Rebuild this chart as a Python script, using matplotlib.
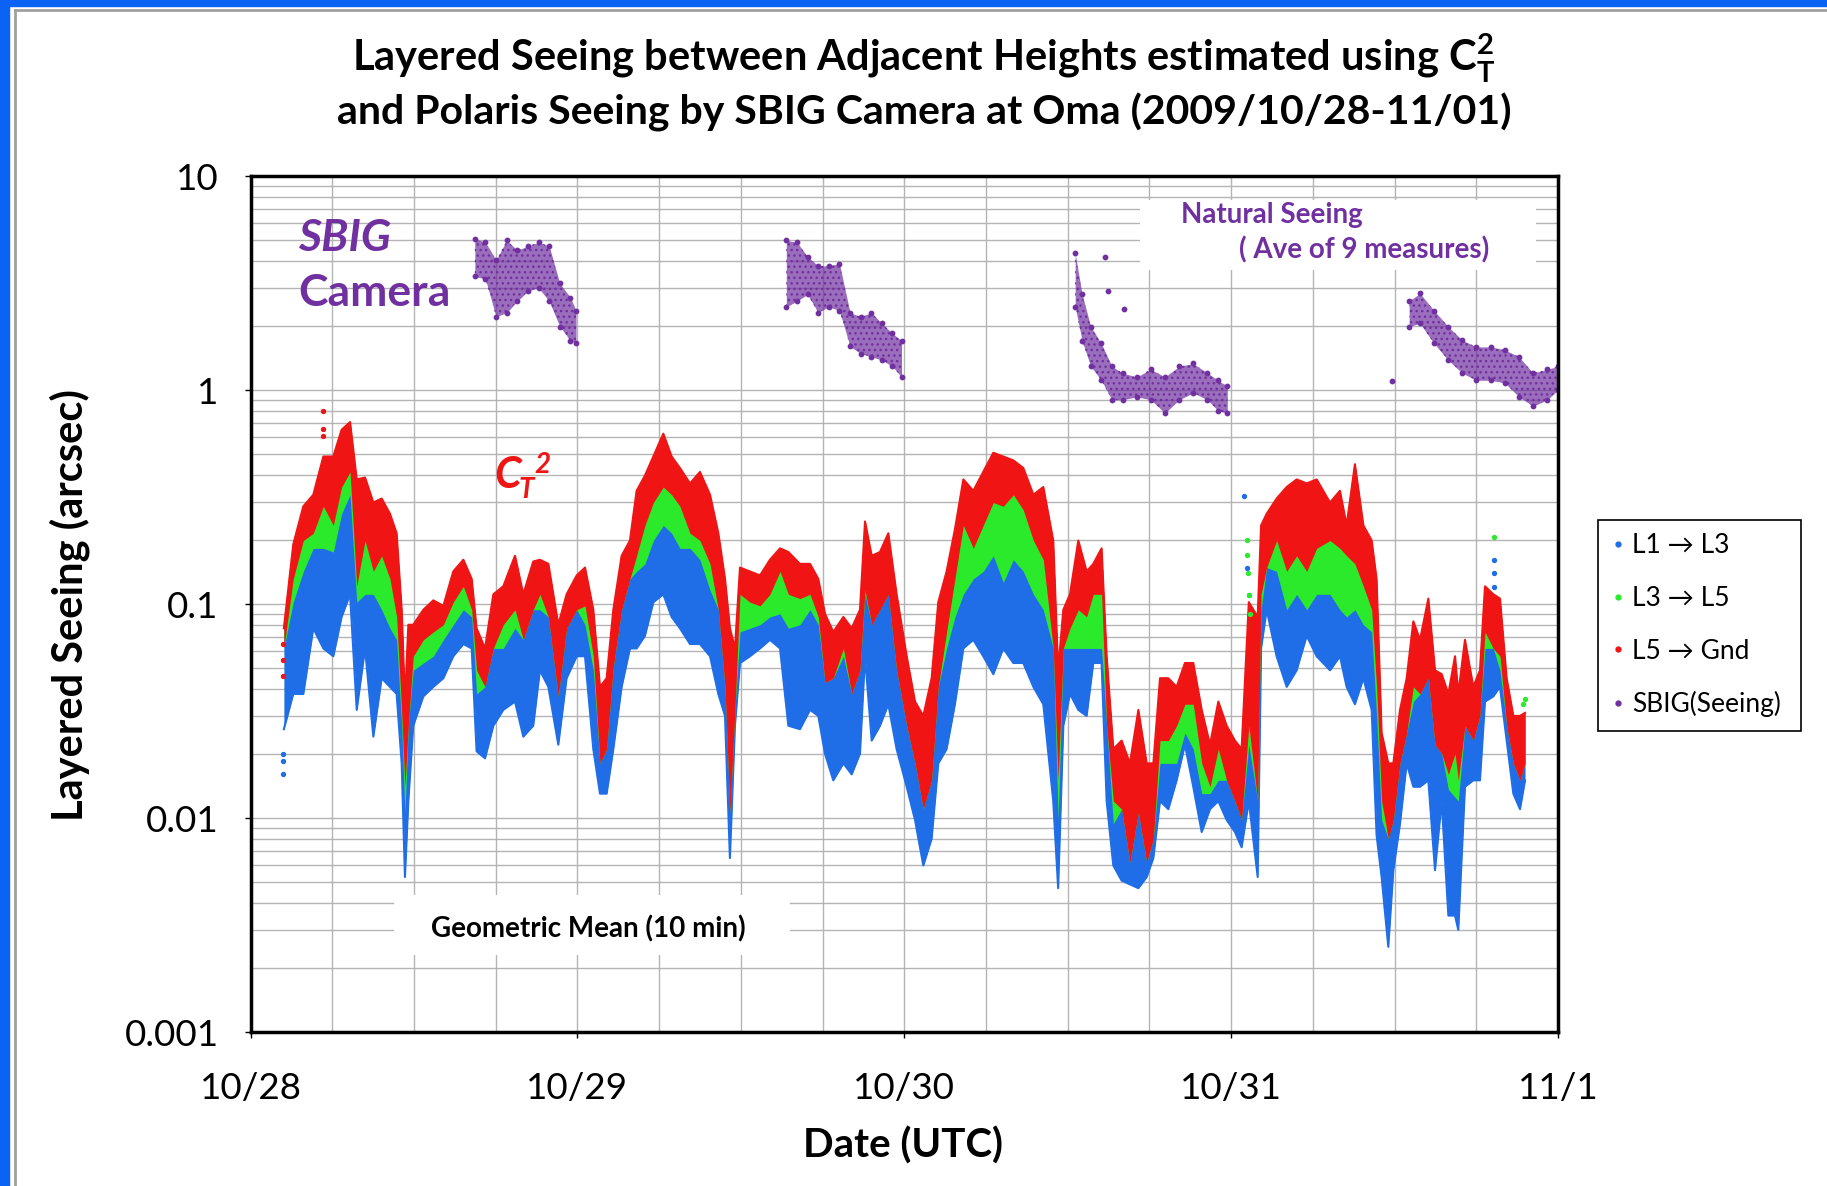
import numpy as np
import matplotlib.pyplot as plt
from matplotlib.lines import Line2D
from matplotlib.patches import Rectangle
from matplotlib.ticker import MultipleLocator, LogLocator, NullFormatter, FixedLocator, FixedFormatter

plt.rcParams['font.family'] = ['Lato', 'DejaVu Sans']
plt.rcParams['mathtext.fontset'] = 'custom'
plt.rcParams['mathtext.rm'] = 'Lato'
plt.rcParams['mathtext.bf'] = 'Lato:bold'

BLUE = '#1f6ee8'
GREEN = '#2bea2b'
RED = '#f01414'
PURPLE = '#7030a0'

# hours since 2009/10/28 00:00 UTC, band edges (arcsec)
hours = [2.45, 3.14, 3.88, 4.61, 5.35, 6.08, 6.69, 7.31, 7.8, 8.41, 9.02, 9.63, 10.24, 10.73, 11.1, 11.34, 11.59, 11.95,
         12.69, 13.42, 14.16, 14.89, 15.63, 16.24, 16.6, 17.22, 17.83, 18.56, 19.42, 20.03, 20.76, 21.25, 21.87, 22.6, 23.21, 23.95,
         24.56, 25.17, 25.66, 26.15, 26.64, 27.25, 27.86, 28.35, 28.96, 29.58, 30.31, 30.92, 31.53, 32.27, 33.0, 33.74, 34.35, 34.84,
         35.2, 35.57, 35.94, 36.67, 37.41, 38.14, 38.88, 39.49, 40.34, 41.08, 41.69, 42.18, 42.79, 43.53, 44.14, 44.75, 45.12, 45.61,
         46.22, 46.83, 47.44,
         48.18, 48.79, 49.4, 50.01, 50.5, 51.11, 51.72, 52.34, 53.07, 53.8, 54.54, 55.27, 56.01, 56.74, 57.48, 58.21, 58.94, 59.3,
         59.68, 60.17, 60.78, 61.39, 61.88, 62.49, 62.86, 63.35, 63.96, 64.57, 65.19, 65.8, 66.29, 66.78, 67.39, 68.0, 68.61, 69.22,
         69.84, 70.45, 71.06, 71.67,
         72.28, 72.77, 73.3, 73.95, 74.2, 74.61, 75.34, 76.08, 76.81, 77.55, 78.28, 79.26, 79.99, 80.48, 81.09, 81.71, 82.32, 82.68,
         83.05, 83.54, 83.91, 84.4, 84.89, 85.38, 85.87, 86.48, 86.97, 87.46, 87.95, 88.44, 88.68, 89.17, 89.78, 90.27, 90.64, 91.25,
         91.74, 92.23, 92.72, 93.21, 93.58]

# L5 -> Gnd, upper edge
gnd_hi = [0.077, 0.19, 0.286, 0.324, 0.489, 0.489, 0.652, 0.708, 0.382, 0.39, 0.298, 0.311, 0.264, 0.214, 0.094, 0.035, 0.080, 0.080,
          0.094, 0.104, 0.098, 0.142, 0.161, 0.131, 0.077, 0.062, 0.111, 0.121, 0.168, 0.111, 0.158, 0.161, 0.154, 0.080, 0.111, 0.136,
          0.148, 0.094, 0.041, 0.045, 0.094, 0.168, 0.198, 0.338, 0.398, 0.489, 0.625, 0.489, 0.432, 0.366, 0.414, 0.324, 0.214, 0.131,
          0.077, 0.062, 0.148, 0.142, 0.136, 0.161, 0.182, 0.175, 0.154, 0.154, 0.131, 0.090, 0.074, 0.087, 0.077, 0.094, 0.243, 0.168,
          0.175, 0.214, 0.111,
          0.057, 0.035, 0.030, 0.045, 0.102, 0.142, 0.223, 0.382, 0.338, 0.414, 0.509, 0.489, 0.469, 0.432, 0.324, 0.352, 0.198, 0.049,
          0.094, 0.111, 0.198, 0.142, 0.154, 0.182, 0.057, 0.021, 0.023, 0.018, 0.032, 0.018, 0.018, 0.045, 0.045, 0.041, 0.053, 0.053,
          0.032, 0.022, 0.035, 0.027,
          0.023, 0.021, 0.102, 0.087, 0.233, 0.264, 0.311, 0.352, 0.382, 0.366, 0.382, 0.298, 0.338, 0.233, 0.45, 0.233, 0.198, 0.131,
          0.025, 0.018, 0.018, 0.032, 0.045, 0.083, 0.068, 0.106, 0.049, 0.047, 0.038, 0.057, 0.038, 0.068, 0.041, 0.049, 0.121, 0.111,
          0.106, 0.045, 0.030, 0.030, 0.031]

# L5 -> Gnd, lower edge
gnd_lo = [0.062, 0.131, 0.198, 0.214, 0.286, 0.233, 0.352, 0.414, 0.121, 0.198, 0.142, 0.168, 0.131, 0.087, 0.031, 0.014, 0.027, 0.057,
          0.068, 0.074, 0.080, 0.102, 0.121, 0.094, 0.049, 0.041, 0.062, 0.080, 0.094, 0.068, 0.094, 0.111, 0.087, 0.037, 0.077, 0.094,
          0.098, 0.057, 0.018, 0.021, 0.051, 0.094, 0.131, 0.168, 0.233, 0.298, 0.352, 0.324, 0.286, 0.214, 0.198, 0.154, 0.094, 0.041,
          0.0106, 0.032, 0.111, 0.102, 0.098, 0.111, 0.142, 0.111, 0.106, 0.111, 0.087, 0.043, 0.045, 0.062, 0.038, 0.049, 0.116, 0.080,
          0.094, 0.111, 0.049,
          0.027, 0.018, 0.011, 0.015, 0.041, 0.074, 0.131, 0.233, 0.182, 0.233, 0.298, 0.286, 0.324, 0.275, 0.198, 0.161, 0.062, 0.015,
          0.062, 0.077, 0.094, 0.087, 0.111, 0.111, 0.027, 0.012, 0.011, 0.0062, 0.0106, 0.0062, 0.0080, 0.023, 0.023, 0.027, 0.034, 0.034,
          0.018, 0.014, 0.021, 0.015,
          0.012, 0.0098, 0.027, 0.012, 0.111, 0.148, 0.198, 0.142, 0.168, 0.142, 0.182, 0.198, 0.182, 0.168, 0.154, 0.121, 0.094, 0.041,
          0.012, 0.0080, 0.0098, 0.018, 0.025, 0.041, 0.038, 0.045, 0.022, 0.020, 0.016, 0.020, 0.015, 0.027, 0.023, 0.030, 0.074, 0.062,
          0.057, 0.027, 0.018, 0.015, 0.018]

# L3 -> L5, lower edge
l35_lo = [0.062, 0.102, 0.142, 0.182, 0.182, 0.175, 0.264, 0.324, 0.102, 0.111, 0.111, 0.094, 0.077, 0.068, 0.027, 0.0106, 0.027, 0.049,
          0.053, 0.057, 0.068, 0.080, 0.094, 0.087, 0.038, 0.041, 0.062, 0.062, 0.077, 0.068, 0.094, 0.094, 0.087, 0.037, 0.077, 0.094,
          0.080, 0.049, 0.018, 0.021, 0.051, 0.094, 0.131, 0.142, 0.154, 0.198, 0.233, 0.214, 0.182, 0.182, 0.161, 0.116, 0.094, 0.041,
          0.0106, 0.032, 0.074, 0.077, 0.080, 0.087, 0.090, 0.077, 0.080, 0.094, 0.080, 0.043, 0.045, 0.057, 0.038, 0.049, 0.111, 0.080,
          0.094, 0.111, 0.049,
          0.027, 0.018, 0.011, 0.015, 0.041, 0.062, 0.087, 0.111, 0.131, 0.142, 0.168, 0.126, 0.161, 0.142, 0.111, 0.094, 0.062, 0.0098,
          0.062, 0.062, 0.062, 0.062, 0.062, 0.062, 0.027, 0.0094, 0.011, 0.0062, 0.0106, 0.0062, 0.0080, 0.018, 0.018, 0.018, 0.025, 0.021,
          0.013, 0.013, 0.015, 0.015,
          0.012, 0.0098, 0.022, 0.012, 0.094, 0.148, 0.142, 0.094, 0.111, 0.094, 0.111, 0.111, 0.094, 0.087, 0.094, 0.080, 0.074, 0.030,
          0.0098, 0.0080, 0.0098, 0.018, 0.025, 0.035, 0.038, 0.045, 0.022, 0.020, 0.0136, 0.0125, 0.012, 0.027, 0.023, 0.030, 0.062, 0.062,
          0.049, 0.027, 0.018, 0.015, 0.018]

# L1 -> L3, lower edge
l13_lo = [0.026, 0.038, 0.038, 0.077, 0.062, 0.057, 0.087, 0.111, 0.032, 0.062, 0.024, 0.045, 0.041, 0.038, 0.018, 0.0053, 0.012, 0.027,
          0.037, 0.041, 0.045, 0.057, 0.065, 0.062, 0.0205, 0.019, 0.027, 0.032, 0.035, 0.024, 0.027, 0.049, 0.041, 0.022, 0.045, 0.057,
          0.057, 0.021, 0.013, 0.013, 0.021, 0.041, 0.062, 0.062, 0.071, 0.102, 0.111, 0.087, 0.077, 0.065, 0.065, 0.057, 0.038, 0.030,
          0.0065, 0.027, 0.053, 0.057, 0.062, 0.068, 0.062, 0.027, 0.026, 0.032, 0.030, 0.020, 0.015, 0.018, 0.016, 0.020, 0.057, 0.023,
          0.027, 0.034, 0.021,
          0.014, 0.0098, 0.0060, 0.0080, 0.018, 0.021, 0.034, 0.062, 0.068, 0.057, 0.047, 0.062, 0.053, 0.053, 0.041, 0.034, 0.012, 0.0047,
          0.027, 0.038, 0.032, 0.030, 0.053, 0.053, 0.012, 0.0060, 0.0051, 0.0049, 0.0047, 0.0053, 0.0065, 0.012, 0.011, 0.015, 0.022, 0.014,
          0.0086, 0.011, 0.012, 0.0098,
          0.0086, 0.0073, 0.012, 0.0053, 0.062, 0.094, 0.057, 0.041, 0.049, 0.071, 0.057, 0.049, 0.057, 0.041, 0.034, 0.045, 0.032, 0.0083,
          0.0053, 0.0025, 0.0057, 0.0094, 0.018, 0.014, 0.014, 0.015, 0.0057, 0.012, 0.0035, 0.0035, 0.0030, 0.014, 0.015, 0.015, 0.035, 0.037,
          0.041, 0.023, 0.013, 0.011, 0.015]

# isolated points outside the bands
l13_extra_h = [2.4, 2.4, 2.4, 72.97, 73.2, 73.3, 91.3, 91.3, 91.3]
l13_extra_v = [0.020, 0.0185, 0.016, 0.32, 0.148, 0.11, 0.16, 0.14, 0.12]
l35_extra_h = [73.15, 73.2, 73.25, 73.3, 73.35, 91.32, 93.4, 93.55]
l35_extra_v = [0.20, 0.17, 0.14, 0.11, 0.09, 0.206, 0.034, 0.036]
gnd_extra_h = [2.4, 2.4, 2.4, 5.3, 5.3, 5.35]
gnd_extra_v = [0.065, 0.055, 0.046, 0.80, 0.66, 0.61]

# SBIG (Polaris) seeing, spread of the point cloud
sbig_hours = [16.47, 17.25, 18.03, 18.81, 19.59, 20.37, 21.15, 21.93, 22.71, 23.49, 23.9,
              39.34, 40.12, 40.9, 41.68, 42.46, 43.24, 44.02, 44.8, 45.58, 46.35, 47.13, 47.8,
              60.55, 61.06, 61.69, 62.47, 63.25, 64.03, 65.07, 66.1, 67.14, 68.18, 69.22, 70.26, 71.04, 71.72,
              85.07, 85.86, 86.9, 87.93, 88.97, 90.0, 91.05, 92.09, 93.13, 94.17, 95.21, 96.0]
sbig_hi = [5.1, 4.9, 4.05, 5.0, 4.5, 4.7, 4.9, 4.7, 3.15, 2.7, 2.35,
           5.0, 4.9, 4.2, 3.8, 3.8, 3.9, 2.3, 2.2, 2.3, 2.05, 1.84, 1.7,
           4.35, 2.8, 1.98, 1.65, 1.29, 1.2, 1.15, 1.25, 1.15, 1.29, 1.33, 1.2, 1.11, 1.04,
           2.6, 2.83, 2.35, 1.98, 1.71, 1.59, 1.59, 1.54, 1.43, 1.2, 1.25, 1.29]
sbig_lo = [3.4, 3.3, 2.2, 2.3, 2.6, 2.9, 3.0, 2.6, 1.98, 1.7, 1.65,
           2.45, 2.6, 2.8, 2.3, 2.45, 2.35, 1.6, 1.48, 1.43, 1.38, 1.29, 1.15,
           2.45, 1.7, 1.29, 1.11, 0.90, 0.90, 0.93, 0.90, 0.78, 0.90, 0.97, 0.90, 0.80, 0.78,
           1.98, 2.05, 1.65, 1.38, 1.2, 1.11, 1.11, 1.08, 0.93, 0.84, 0.90, 1.0]
sbig_extra_h = [62.73, 62.99, 64.1, 83.78]
sbig_extra_v = [4.2, 2.9, 2.4, 1.10]

date_labels = ['10/28', '10/29', '10/30', '10/31', '11/1']
y_labels = ['0.001', '0.01', '0.1', '1', '10']

W, H = 1827, 1186
fig = plt.figure(figsize=(W / 100, H / 100), dpi=100)
ax = fig.add_axes([250.5 / W, 1 - 1032 / H, 1307.5 / W, 856 / H])

d = np.array(hours) / 24
ax.fill_between(d, l13_lo, gnd_hi, color=BLUE, lw=0, zorder=2)
ax.plot(d, l13_lo, color=BLUE, lw=1.5, zorder=2)
ax.fill_between(d, l35_lo, gnd_hi, color=GREEN, lw=0, zorder=2.1)
ax.fill_between(d, gnd_lo, gnd_hi, color=RED, lw=0, zorder=2.2)
ax.plot(d, gnd_hi, color=RED, lw=1.5, zorder=2.2)
ax.scatter(np.array(l13_extra_h) / 24, l13_extra_v, s=8, color=BLUE, zorder=2.3)
ax.scatter(np.array(l35_extra_h) / 24, l35_extra_v, s=8, color=GREEN, zorder=2.3)
ax.scatter(np.array(gnd_extra_h) / 24, gnd_extra_v, s=8, color=RED, zorder=2.3)

# SBIG clouds, one per night
sh = np.array(sbig_hours)
sd = sh / 24
lo = np.array(sbig_lo)
hi = np.array(sbig_hi)
breaks = np.where(np.diff(sh) > 4)[0] + 1
for idx in np.split(np.arange(len(sh)), breaks):
    ax.fill_between(sd[idx], lo[idx], hi[idx], color=PURPLE, alpha=0.7, lw=0, zorder=2)
    ax.fill_between(sd[idx], lo[idx], hi[idx], facecolor='none', edgecolor=PURPLE, hatch='...', lw=0, zorder=2)
ax.scatter(sd, lo, s=10, color=PURPLE, zorder=2.3)
ax.scatter(sd, hi, s=10, color=PURPLE, zorder=2.3)
ax.scatter(np.array(sbig_extra_h) / 24, sbig_extra_v, s=10, color=PURPLE, zorder=2.3)

# axes, grid and ticks
ax.set_yscale('log')
ax.set_xlim(0, 4)
ax.set_ylim(0.001, 10)
ax.xaxis.set_major_locator(FixedLocator(range(5)))
ax.xaxis.set_major_formatter(FixedFormatter(date_labels))
ax.xaxis.set_minor_locator(MultipleLocator(0.25))
ax.yaxis.set_major_locator(FixedLocator([0.001, 0.01, 0.1, 1, 10]))
ax.yaxis.set_major_formatter(FixedFormatter(y_labels))
ax.yaxis.set_minor_locator(LogLocator(base=10, subs=range(2, 10)))
ax.yaxis.set_minor_formatter(NullFormatter())
ax.set_axisbelow(True)
ax.grid(which='both', color='#b4b4b4', lw=1.0)
ax.tick_params(which='major', direction='out', length=4, width=1, labelsize=26.5)
ax.tick_params(axis='y', which='major', pad=19)
ax.tick_params(axis='x', which='major', pad=25)
ax.tick_params(which='minor', length=0)
for sp in ax.spines.values():
    sp.set_linewidth(2.5)
    sp.set_color('black')

# text boxes inside the plot
ax.add_patch(Rectangle((0.680, 0.890), 0.303, 0.082, transform=ax.transAxes, facecolor='white', edgecolor='none', zorder=1))
ax.add_patch(Rectangle((0.1098, 0.0899), 0.3028, 0.070, transform=ax.transAxes, facecolor='white', edgecolor='none', zorder=1))
ax.text(0.712, 0.9544, 'Natural Seeing', transform=ax.transAxes, color=PURPLE, fontsize=20, fontweight='bold', va='center')
ax.text(0.756, 0.9136, '( Ave of 9 measures)', transform=ax.transAxes, color=PURPLE, fontsize=20, fontweight='bold', va='center')
ax.text(0.138, 0.1203, 'Geometric Mean (10 min)', transform=ax.transAxes, fontsize=20, fontweight='bold', va='center')
ax.text(0.0363, 0.9276, 'SBIG', transform=ax.transAxes, color=PURPLE, fontsize=32, fontweight='bold', style='italic', va='center')
ax.text(0.0363, 0.8633, 'Camera', transform=ax.transAxes, color=PURPLE, fontsize=32, fontweight='bold', va='center')
ax.text(0.1868, 0.6355, 'C', transform=ax.transAxes, color=RED, fontsize=31, fontweight='bold', style='italic', va='baseline')
ax.text(0.2053, 0.6238, 'T', transform=ax.transAxes, color=RED, fontsize=20, fontweight='bold', style='italic', va='baseline')
ax.text(0.2171, 0.653, '2', transform=ax.transAxes, color=RED, fontsize=20, fontweight='bold', style='italic', va='baseline')

# titles and axis labels
fig.text(924 / W, 1 - 58 / H, r'Layered Seeing between Adjacent Heights estimated using C$_\mathbf{T}^\mathbf{2}$',
         ha='center', va='center', fontsize=30, fontweight='bold')
fig.text(924 / W, 1 - 112 / H, 'and Polaris Seeing by SBIG Camera at Oma (2009/10/28-11/01)',
         ha='center', va='center', fontsize=29.5, fontweight='bold')
fig.text(70 / W, 1 - 605 / H, 'Layered Seeing (arcsec)', rotation=90, ha='center', va='center', fontsize=30, fontweight='bold')
fig.text(903 / W, 1 - 1146 / H, 'Date (UTC)', ha='center', va='center', fontsize=29, fontweight='bold')

# legend
handles = [Line2D([], [], ls='', marker='o', markersize=3.5, color=c) for c in (BLUE, GREEN, RED, PURPLE)]
labels = ['L1 \u2192 L3', 'L3 \u2192 L5', 'L5 \u2192 Gnd', 'SBIG(Seeing)']
leg = fig.legend(handles, labels, loc='upper left', bbox_to_anchor=(1598 / W, 1 - 520 / H - 0.01, 203 / W, 0.01),
                 mode='expand', frameon=True, fancybox=False, edgecolor='black', fontsize=19, labelspacing=1.05,
                 handlelength=0.5, handletextpad=0.3, borderpad=0.5, borderaxespad=0, framealpha=1)
leg.get_frame().set_linewidth(1.2)

# slide frame
fig.add_artist(Rectangle((0, 0), 9 / W, 1, transform=fig.transFigure, color='#0b63f6', zorder=5))
fig.add_artist(Rectangle((0, 1 - 6 / H), 1, 6 / H, transform=fig.transFigure, color='#0b63f6', zorder=5))
fig.add_artist(Line2D([15 / W, 15 / W], [0, 1 - 10 / H], transform=fig.transFigure, color='#a0a0a0', lw=2))
fig.add_artist(Line2D([15 / W, 1], [1 - 10 / H, 1 - 10 / H], transform=fig.transFigure, color='#a0a0a0', lw=2))

fig.savefig('out.png', dpi=100)
